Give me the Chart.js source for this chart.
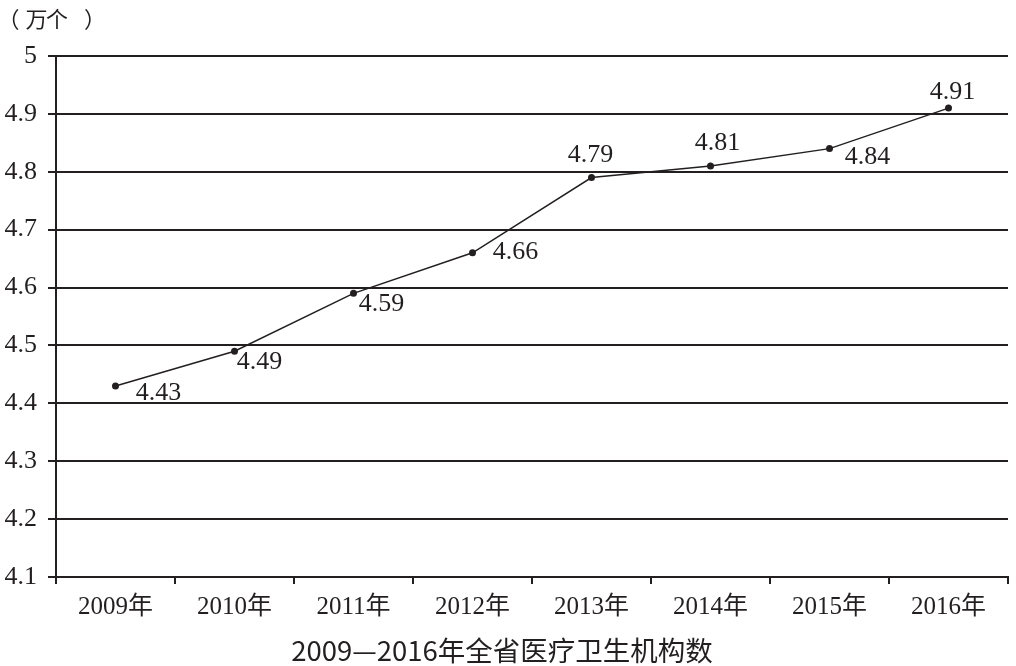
<!DOCTYPE html>
<html>
<head>
<meta charset="utf-8">
<script src="https://cdn.jsdelivr.net/npm/chart.js@4/dist/chart.umd.min.js"></script>
<style>
  html, body { margin: 0; padding: 0; background: #ffffff; }
  #wrap { width: 1016px; height: 666px; position: relative; }
</style>
</head>
<body>
<div id="wrap"><canvas id="c" width="1016" height="666"></canvas></div>
<script>
const categories = ['2009年', '2010年', '2011年', '2012年', '2013年', '2014年', '2015年', '2016年'];
const values = [4.43, 4.49, 4.59, 4.66, 4.79, 4.81, 4.84, 4.91];
const yMin = 4.1;
const yMax = 5;
const yStep = 0.1;
const unitLabel = '（万个）';
const chartTitle = '2009—2016年全省医疗卫生机构数';

const INK = '#231f20';
const SERIF = "'Liberation Serif', 'Noto Sans CJK SC', serif";
const CJK = "'Noto Sans CJK SC', sans-serif";

// label offsets (relative to point, text centre) for each point
const labelOffsets = [[43, 7], [25, 11], [28, 11], [43, -1], [-1, -22], [7, -23], [38, 9], [4, -16]];
// ink centres of the unit label glyphs
const unitGlyphCentres = [15.5, 36, 57, 88];

const annotate = {
  id: 'annotate',
  afterDatasetsDraw(chart) {
    const ctx = chart.ctx;
    const meta = chart.getDatasetMeta(0);
    ctx.save();
    ctx.fillStyle = INK;
    ctx.font = '26px ' + SERIF;
    ctx.textAlign = 'center';
    ctx.textBaseline = 'middle';
    meta.data.forEach((pt, i) => {
      const off = labelOffsets[i];
      ctx.fillText(String(values[i]), pt.x + off[0], pt.y + off[1]);
    });
    ctx.restore();
  },
  afterDraw(chart) {
    const ctx = chart.ctx;
    ctx.save();
    ctx.fillStyle = INK;
    ctx.font = '22px ' + CJK;
    ctx.textAlign = 'left';
    ctx.textBaseline = 'middle';
    Array.from(unitLabel).forEach((ch, i) => {
      const m = ctx.measureText(ch);
      const inkMid = (m.actualBoundingBoxRight - m.actualBoundingBoxLeft) / 2;
      ctx.fillText(ch, unitGlyphCentres[i] - inkMid, 19);
    });
    ctx.font = '27.5px ' + CJK;
    ctx.textAlign = 'center';
    ctx.fillText(chartTitle, 502, 651);
    ctx.restore();
  }
};

function build() {
  new Chart(document.getElementById('c'), {
    type: 'line',
    data: {
      labels: categories,
      datasets: [{
        data: values,
        borderColor: INK,
        borderWidth: 1.5,
        pointBackgroundColor: INK,
        pointBorderColor: INK,
        pointRadius: 3.5,
        pointBorderWidth: 0,
        tension: 0,
        fill: false
      }]
    },
    options: {
      responsive: false,
      animation: false,
      devicePixelRatio: 1,
      layout: { padding: { left: 0, right: 8, top: 56, bottom: 39 } },
      plugins: {
        legend: { display: false },
        tooltip: { enabled: false },
        title: { display: false }
      },
      scales: {
        x: {
          type: 'category',
          offset: true,
          afterFit(scale) { scale.height = 50; },
          grid: {
            offset: true,
            drawOnChartArea: false,
            drawTicks: true,
            tickLength: 7,
            color: INK,
            lineWidth: 2
          },
          border: { display: true, color: INK, width: 2 },
          ticks: {
            color: INK,
            font: { family: SERIF, size: 25 },
            padding: 8,
            maxRotation: 0,
            autoSkip: false
          }
        },
        y: {
          min: yMin,
          max: yMax,
          afterFit(scale) { scale.width = 56; },
          grid: {
            color: INK,
            lineWidth: 2,
            drawTicks: true,
            tickLength: 8
          },
          border: { display: true, color: INK, width: 2 },
          ticks: {
            stepSize: yStep,
            color: INK,
            font: { family: SERIF, size: 26 },
            padding: 11,
            callback(v) { return String(Number(v.toFixed(1))); }
          }
        }
      }
    },
    plugins: [annotate]
  });
}

Promise.all([
  document.fonts.load("26px 'Liberation Serif'", '4.9'),
  document.fonts.load("28px 'Noto Sans CJK SC'", '年万个（）')
]).catch(() => {}).then(build);
</script>
</body>
</html>
